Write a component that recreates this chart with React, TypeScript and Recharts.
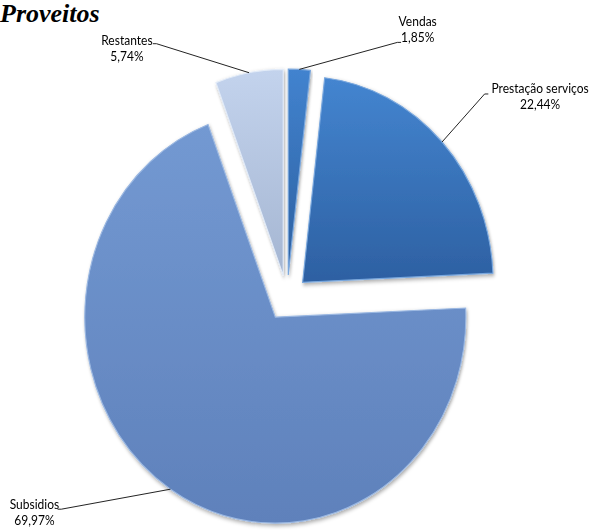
import React from 'react';
import { PieChart, Pie, Cell } from 'recharts';

const categories = ['Vendas', 'Prestação serviços', 'Subsidios', 'Restantes'];
const shares = [1.85, 22.44, 69.97, 5.74];

const data = categories.map((name, i) => ({ name, value: shares[i] }));
const pctText = (v: number) => v.toFixed(2).replace('.', ',') + '%';

// the original chart is a bit narrower than tall, so the svg is squeezed sideways
const SX = 0.925;
const W = 595;
const H = 530;
const CW = W / SX;
const CX = 310.3;
const CY = 298;
const R = 206;
const EXPLODE = 23;

const gradients = [
  { id: 'gVendas', top: '#4283cf', bottom: '#2c5f9f', edge: '#7aa7dd' },
  { id: 'gPrest', top: '#4485d0', bottom: '#2d60a2', edge: '#7aa8de' },
  { id: 'gSubs', top: '#7399d2', bottom: '#5f81bb', edge: '#9bb8e2' },
  { id: 'gRest', top: '#c3d3ed', bottom: '#a5b6d2', edge: '#e2ebf8' },
];

// leader line elbow relative to the arc point, text centre relative to the elbow
const labelLayout = [
  { ex: 106, ey: -27, stub: 4, tx: 22, nameDy: -16, pctDy: 0 },
  { ex: 46, ey: -48, stub: 4, tx: 60, nameDy: -1, pctDy: 15 },
  { ex: -118, ey: 20, stub: -4, tx: -29, nameDy: 0, pctDy: 16 },
  { ex: -100, ey: -29, stub: -4, tx: -32, nameDy: 1, pctDy: 17 },
];

const total = shares.reduce((a, b) => a + b, 0);
const midAngles = shares.map((v, i) => {
  const before = shares.slice(0, i).reduce((a, b) => a + b, 0);
  return ((before + v / 2) / total) * 360;
});

const RAD = Math.PI / 180;

const renderLabel = (slice: number) => (props: any) => {
  if (props.index !== slice) return null;
  const ax = props.cx + props.outerRadius * Math.cos(-props.midAngle * RAD);
  const ay = props.cy + props.outerRadius * Math.sin(-props.midAngle * RAD);
  const L = labelLayout[slice];
  const ex = ax + L.ex;
  const ey = ay + L.ey;
  const tx = ex + L.tx;
  const font = { fontFamily: 'Lato, "Open Sans", sans-serif', fontSize: 13, fill: '#000' };
  return (
    <g>
      <polyline
        points={`${ax},${ay} ${ex},${ey} ${ex + L.stub},${ey}`}
        fill="none"
        stroke="#1a1a1a"
        strokeWidth={1}
      />
      <text x={tx} y={ey + L.nameDy} textAnchor="middle" {...font}>
        {categories[slice]}
      </text>
      <text x={tx} y={ey + L.pctDy} textAnchor="middle" {...font}>
        {pctText(shares[slice])}
      </text>
    </g>
  );
};

const App: React.FC = () => {
  return (
    <div style={{ position: 'absolute', left: 0, top: 0, width: W, height: H, overflow: 'hidden', background: '#fff' }}>
      <div style={{ position: 'absolute', left: 0, top: 0, width: CW, height: H, transform: `scaleX(${SX})`, transformOrigin: '0 0' }}>
        <PieChart width={CW} height={H} margin={{ top: 0, right: 0, bottom: 0, left: 0 }}>
          <defs>
            {gradients.map((g) => (
              <linearGradient key={g.id} id={g.id} x1="0" y1="0" x2="0" y2="1">
                <stop offset="0%" stopColor={g.top} />
                <stop offset="100%" stopColor={g.bottom} />
              </linearGradient>
            ))}
            <filter id="pieShadow" x="-10%" y="-10%" width="120%" height="120%">
              <feDropShadow dx="1" dy="2" stdDeviation="2" floodColor="#000" floodOpacity="0.35" />
            </filter>
          </defs>
          {categories.map((cat, slice) => (
            <Pie
              key={cat}
              data={data}
              dataKey="value"
              nameKey="name"
              cx={CX + EXPLODE * Math.sin(midAngles[slice] * RAD)}
              cy={CY - EXPLODE * Math.cos(midAngles[slice] * RAD)}
              outerRadius={R}
              startAngle={90}
              endAngle={-270}
              labelLine={false}
              label={renderLabel(slice)}
              isAnimationActive={false}
            >
              {data.map((d, i) => (
                <Cell
                  key={d.name}
                  fill={i === slice ? `url(#${gradients[i].id})` : 'none'}
                  stroke={i === slice ? gradients[i].edge : 'none'}
                  strokeWidth={i === slice ? 1.2 : 0}
                  filter={i === slice ? 'url(#pieShadow)' : undefined}
                />
              ))}
            </Pie>
          ))}
        </PieChart>
      </div>
      <svg width={W} height={40} style={{ position: 'absolute', left: 0, top: 0 }}>
        <text
          x={0}
          y={22}
          fontFamily='"Liberation Serif", "DejaVu Serif", serif'
          fontStyle="italic"
          fontWeight="bold"
          fontSize={26}
          fill="#000"
        >
          Proveitos
        </text>
      </svg>
    </div>
  );
};

export default App;
